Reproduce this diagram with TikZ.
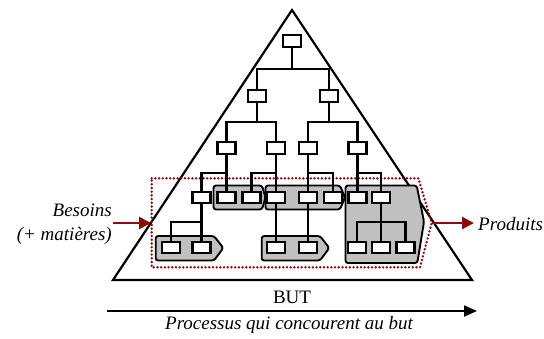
\documentclass[tikz,border=0pt]{standalone}
\usepackage{fontspec}
\setmainfont{Liberation Serif}
\usetikzlibrary{arrows.meta}
\definecolor{dred}{RGB}{140,12,12}
\definecolor{greyfill}{RGB}{192,192,192}
\tikzset{
  box/.style={draw, fill=white, line width=2.1pt, minimum width=18pt, minimum height=11.3pt, inner sep=0pt},
  conn/.style={line width=2.1pt},
  grp/.style={draw, fill=greyfill, line width=1.9pt, rounded corners=2.5pt},
  lbl/.style={font=\fontsize{19}{21}\selectfont\itshape, inner sep=0pt},
  redarrow/.style={draw=dred, line width=2.8pt, -{Triangle[length=12pt,width=12pt]}},
  frame/.style={draw=dred, line width=2.7pt, dash pattern=on 0pt off 3.7pt, line cap=round}
}
\begin{document}
\begin{tikzpicture}[x=1pt,y=-1pt]
\useasboundingbox (0,0) rectangle (544,338);
% pyramid
\draw[line width=2.2pt, line join=miter] (292,10) -- (472,280) -- (113,280) -- cycle;
% grey groups
\path[grp] (213.5,185.5) -- (262,185.5) -- (265.5,197.5) -- (262,209.5) -- (213.5,209.5) -- cycle;
\path[grp] (265.5,185.5) -- (340,185.5) -- (345,197.5) -- (340,209.5) -- (265.5,209.5) -- cycle;
\path[grp] (345.5,185.5) -- (416.7,185.5) -- (424,221.7) -- (417.3,263) -- (345.5,263) -- cycle;
\path[grp] (155.7,236) -- (214,236) -- (223.3,248) -- (214,260.5) -- (155.7,260.5) -- cycle;
\path[grp] (261.7,236) -- (320,236) -- (329.3,248) -- (320,260.5) -- (261.7,260.5) -- cycle;
% dotted frame
\draw[frame] (151.7,178.3) -- (418.3,178.3) -- (431.7,223) -- (420,267.3) -- (151.7,267.3) -- cycle;
% boxes
\node[box] (t)  at (292,41) {};
\node[box] (a1) at (257,96) {};
\node[box] (a2) at (329,96) {};
\node[box] (c1) at (226.5,148) {};
\node[box] (c2) at (276,148) {};
\node[box] (c3) at (308,148) {};
\node[box] (c4) at (357.5,148) {};
\node[box] (d1) at (201.5,197.5) {};
\node[box] (d2) at (226.5,197.5) {};
\node[box] (d3) at (251.5,197.5) {};
\node[box] (d4) at (276,197.5) {};
\node[box] (d5) at (308,197.5) {};
\node[box] (d6) at (333,197.5) {};
\node[box] (d7) at (357.5,197.5) {};
\node[box] (d8) at (381,197.5) {};
\node[box] (e1) at (170.7,247.3) {};
\node[box] (e2) at (201.5,247.3) {};
\node[box] (e3) at (276,247.3) {};
\node[box] (e4) at (308,247.3) {};
\node[box] (f1) at (357,247.3) {};
\node[box] (f2) at (381,247.3) {};
\node[box] (f3) at (405.5,247.3) {};
% bar coordinates
\coordinate (b0) at (292,69);
\coordinate (b1) at (257,122);
\coordinate (b2) at (329,122);
\coordinate (b3) at (226.5,173);
\coordinate (b4) at (276,173);
\coordinate (b5) at (308,173);
\coordinate (b6) at (357.5,173);
\coordinate (b7) at (201.5,221.7);
\coordinate (b8) at (381,222);
% connectors
\draw[conn] (t.south) -- (b0);
\draw[conn] (a1.north) |- (b0) -| (a2.north);
\draw[conn] (a1.south) -- (b1);
\draw[conn] (c1.north) |- (b1) -| (c2.north);
\draw[conn] (a2.south) -- (b2);
\draw[conn] (c3.north) |- (b2) -| (c4.north);
\draw[conn] (c1.south) -- (d2.north);
\draw[conn] (d1.north) |- (b3);
\draw[conn] (c2.south) -- (d4.north);
\draw[conn] (d3.north) |- (b4);
\draw[conn] (c3.south) -- (d5.north);
\draw[conn] (d6.north) |- (b5);
\draw[conn] (c4.south) -- (d7.north);
\draw[conn] (d8.north) |- (b6);
\draw[conn] (d1.south) -- (e2.north);
\draw[conn] (e1.north) |- (b7);
\draw[conn] (d4.south) -- (e3.north);
\draw[conn] (d5.south) -- (e4.north);
\draw[conn] (d8.south) -- (f2.north);
\draw[conn] (f1.north) |- (b8) -| (f3.north);
% labels
\node[lbl, anchor=base east] (bes) at (112,216) {Besoins};
\node[lbl, anchor=base east] (mat) at (112,240) {(+ matières)};
\node[lbl, anchor=base west] (prod) at (478,230) {Produits};
\node[lbl, font=\fontsize{19}{21}\selectfont\upshape, anchor=base] (but) at (292,303.3) {BUT};
\node[lbl, anchor=base] (proc) at (289,329.4) {Processus qui concourent au but};
% arrows
\coordinate (inS) at (113,223);
\coordinate (inE) at (151,223);
\coordinate (outS) at (431.7,223);
\coordinate (outE) at (474,223);
\draw[redarrow] (inS) -- (inE);
\draw[redarrow] (outS) -- (outE);
\coordinate (pS) at (106.7,311);
\coordinate (pE) at (477,311);
\draw[line width=1.9pt, -{Triangle[length=13pt,width=11pt]}] (pS) -- (pE);
\end{tikzpicture}
\end{document}
